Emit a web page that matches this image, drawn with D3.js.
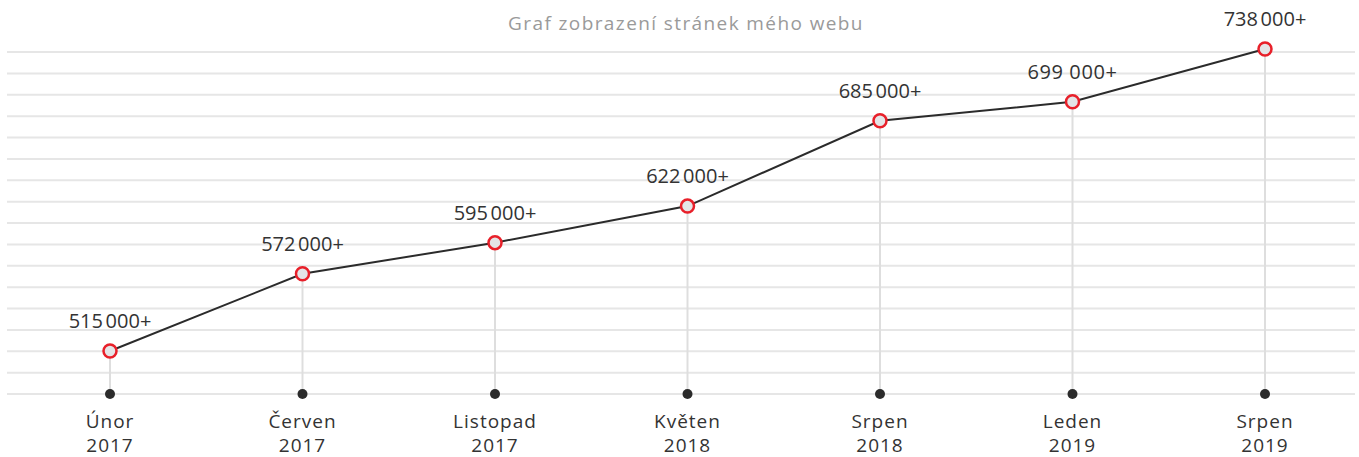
<!DOCTYPE html>
<html>
<head>
<meta charset="utf-8">
<script src="https://cdn.jsdelivr.net/npm/d3@7"></script>
<style>
  body { margin: 0; background: #fff; }
  svg text { font-family: "Open Sans", Inter, sans-serif; }
</style>
</head>
<body>
<div id="chart"></div>
<script>
// data
var months = ["Únor", "Červen", "Listopad", "Květen", "Srpen", "Leden", "Srpen"];
var years = ["2017", "2017", "2017", "2018", "2018", "2019", "2019"];
var views = [515000, 572000, 595000, 622000, 685000, 699000, 738000];
var valueLabels = ["515\u202F000+", "572\u202F000+", "595\u202F000+", "622\u202F000+", "685\u202F000+", "699 000+", "738\u202F000+"];
var title = "Graf zobrazení stránek mého webu";

var width = 1359, height = 457;
var baseY = 394;
var gridCount = 17;

var svg = d3.select("#chart")
    .append("svg")
    .attr("width", width)
    .attr("height", height);

var x = d3.scalePoint()
    .domain(d3.range(views.length))
    .range([110, 1265]);

var y = d3.scaleLinear()
    .domain([515000, 738000])
    .range([351, 49]);

var grid = d3.scaleLinear()
    .domain([0, gridCount - 1])
    .range([52, baseY]);

// title
svg.append("text")
    .attr("x", 686)
    .attr("y", 30)
    .attr("text-anchor", "middle")
    .attr("font-size", "19px")
    .attr("letter-spacing", "1.4px")
    .attr("fill", "#9a9a9a")
    .text(title);

// horizontal grid
svg.selectAll("line.grid")
    .data(d3.range(gridCount))
    .enter()
    .append("line")
    .attr("class", "grid")
    .attr("x1", 7)
    .attr("x2", width - 4)
    .attr("y1", function(d) { return grid(d); })
    .attr("y2", function(d) { return grid(d); })
    .attr("stroke", "#e6e6e6")
    .attr("stroke-width", 2);

// vertical drops
svg.selectAll("line.drop")
    .data(views)
    .enter()
    .append("line")
    .attr("class", "drop")
    .attr("x1", function(d, i) { return x(i); })
    .attr("x2", function(d, i) { return x(i); })
    .attr("y1", function(d) { return y(d); })
    .attr("y2", baseY)
    .attr("stroke", "#dedede")
    .attr("stroke-width", 2);

// baseline dots
svg.selectAll("circle.base")
    .data(views)
    .enter()
    .append("circle")
    .attr("class", "base")
    .attr("cx", function(d, i) { return x(i); })
    .attr("cy", baseY)
    .attr("r", 5)
    .attr("fill", "#2b2b2b");

// line
var line = d3.line()
    .x(function(d, i) { return x(i); })
    .y(function(d) { return y(d); });

svg.append("path")
    .datum(views)
    .attr("d", line)
    .attr("fill", "none")
    .attr("stroke", "#2b2b2b")
    .attr("stroke-width", 2);

// points
svg.selectAll("circle.pt")
    .data(views)
    .enter()
    .append("circle")
    .attr("class", "pt")
    .attr("cx", function(d, i) { return x(i); })
    .attr("cy", function(d) { return y(d); })
    .attr("r", 6.5)
    .attr("fill", "#e4e5e7")
    .attr("stroke", "#e8202a")
    .attr("stroke-width", 2.5);

// value labels
svg.selectAll("text.val")
    .data(views)
    .enter()
    .append("text")
    .attr("class", "val")
    .attr("x", function(d, i) { return x(i); })
    .attr("y", function(d) { return y(d) - 23; })
    .attr("text-anchor", "middle")
    .attr("font-size", "20px")
    .attr("letter-spacing", "0.6px")
    .attr("fill", "#333")
    .text(function(d, i) { return valueLabels[i]; });

// month / year labels
svg.selectAll("text.month")
    .data(months)
    .enter()
    .append("text")
    .attr("class", "month")
    .attr("x", function(d, i) { return x(i); })
    .attr("y", 428)
    .attr("text-anchor", "middle")
    .attr("font-size", "19px")
    .attr("letter-spacing", "1px")
    .attr("fill", "#333")
    .text(function(d) { return d; });

svg.selectAll("text.year")
    .data(years)
    .enter()
    .append("text")
    .attr("class", "year")
    .attr("x", function(d, i) { return x(i); })
    .attr("y", 452)
    .attr("text-anchor", "middle")
    .attr("font-size", "19px")
    .attr("letter-spacing", "1px")
    .attr("fill", "#333")
    .text(function(d) { return d; });
</script>
</body>
</html>
